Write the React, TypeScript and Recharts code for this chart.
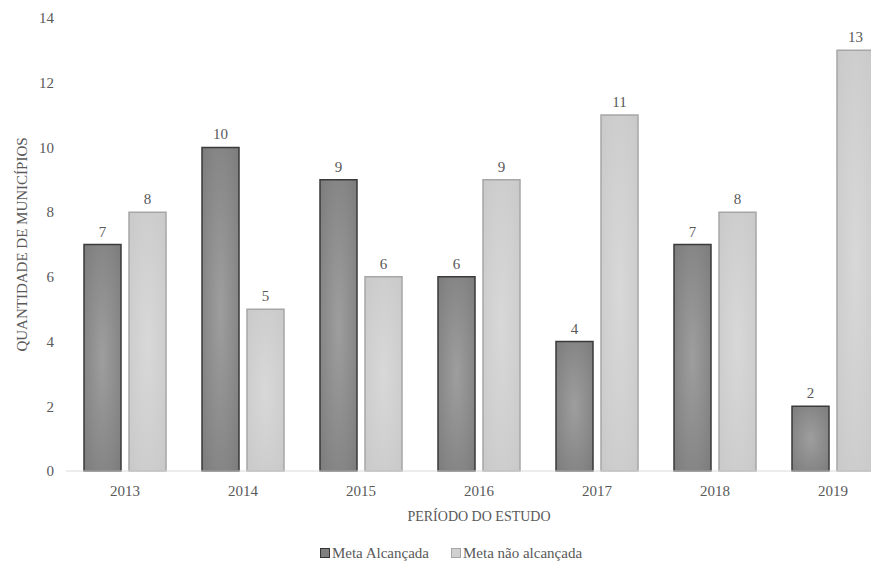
import React from 'react';
import { BarChart, Bar, XAxis, YAxis, LabelList, Legend } from 'recharts';

const anos = ['2013', '2014', '2015', '2016', '2017', '2018', '2019'];
const metaAlcancada = [7, 10, 9, 6, 4, 7, 2];
const metaNaoAlcancada = [8, 5, 6, 9, 11, 8, 13];
const yTicks = [0, 2, 4, 6, 8, 10, 12, 14];

const data = anos.map((ano, i) => ({
    ano,
    alcancada: metaAlcancada[i],
    naoAlcancada: metaNaoAlcancada[i],
}));

const FONT = '"Liberation Serif", "Times New Roman", serif';
const TXT = '#595959';

const LegendContent = () => (
    <div style={{ display: 'flex', justifyContent: 'center', gap: 22, paddingTop: 24, fontFamily: FONT, fontSize: 15, lineHeight: '12px', color: TXT }}>
        <span style={{ display: 'flex', alignItems: 'center', fontFamily: FONT }}>
            <span style={{ width: 8, height: 8, background: '#7f7f7f', border: '1px solid #333', marginRight: 2 }} />
            Meta Alcançada
        </span>
        <span style={{ display: 'flex', alignItems: 'center', fontFamily: FONT }}>
            <span style={{ width: 8, height: 8, background: '#d0d0d0', border: '1px solid #a6a6a6', marginRight: 2 }} />
            Meta não alcançada
        </span>
    </div>
);

export default function App() {
    return (
        <div style={{ margin: -8, width: 879, height: 569, overflow: 'hidden', background: '#fff' }}>
            <BarChart
                width={900}
                height={569}
                data={data}
                margin={{ top: 18, right: 8, left: 10, bottom: 0 }}
                barGap={8}
                barCategoryGap={18}
            >
                <defs>
                    <radialGradient id="gDark" cx="50%" cy="50%" r="70%">
                        <stop offset="0%" stopColor="#9e9e9e" />
                        <stop offset="100%" stopColor="#7c7c7c" />
                    </radialGradient>
                    <radialGradient id="gLight" cx="50%" cy="50%" r="70%">
                        <stop offset="0%" stopColor="#d8d8d8" />
                        <stop offset="100%" stopColor="#c9c9c9" />
                    </radialGradient>
                </defs>
                <XAxis
                    dataKey="ano"
                    height={52}
                    stroke="#d9d9d9"
                    tickLine={false}
                    tick={{ fill: TXT, fontSize: 15, fontFamily: FONT }}
                    tickMargin={8}
                    label={{ value: 'PERÍODO DO ESTUDO', position: 'insideBottom', offset: 2, fill: TXT, fontSize: 14, fontFamily: FONT }}
                />
                <YAxis
                    width={56}
                    domain={[0, 14]}
                    ticks={yTicks}
                    axisLine={false}
                    tickLine={false}
                    tick={{ fill: TXT, fontSize: 15, fontFamily: FONT }}
                    tickMargin={6}
                    label={{ value: 'QUANTIDADE DE MUNICÍPIOS', angle: -90, position: 'insideLeft', offset: 12, fill: TXT, fontSize: 15, fontFamily: FONT, style: { textAnchor: 'middle' } }}
                />
                <Legend verticalAlign="bottom" height={46} content={<LegendContent />} />
                <Bar dataKey="alcancada" name="Meta Alcançada" fill="url(#gDark)" stroke="#3a3a3a" strokeWidth={1.5} isAnimationActive={false}>
                    <LabelList dataKey="alcancada" position="top" offset={8} fill={TXT} fontSize={15} fontFamily={FONT} />
                </Bar>
                <Bar dataKey="naoAlcancada" name="Meta não alcançada" fill="url(#gLight)" stroke="#a6a6a6" strokeWidth={1.5} isAnimationActive={false}>
                    <LabelList dataKey="naoAlcancada" position="top" offset={8} fill={TXT} fontSize={15} fontFamily={FONT} />
                </Bar>
            </BarChart>
        </div>
    );
}
